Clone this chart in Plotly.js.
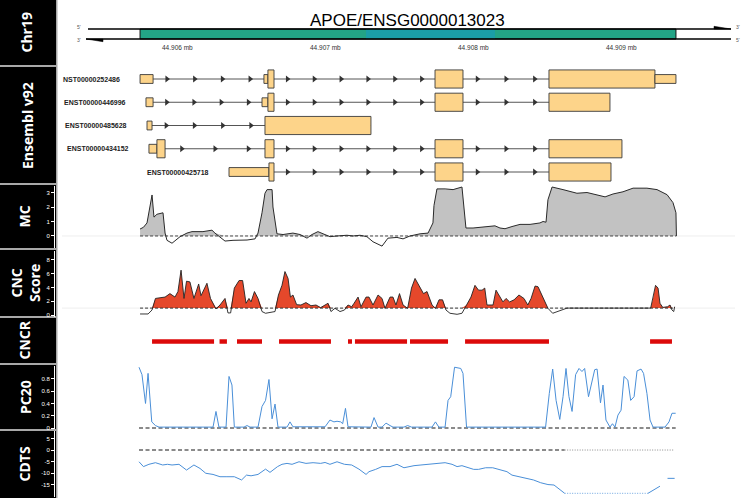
<!DOCTYPE html>
<html><head><meta charset="utf-8">
<script src="https://cdn.plot.ly/plotly-3.0.1.min.js"></script>
<style>html,body{margin:0;padding:0;background:#fff}#chart{width:750px;height:498px}</style>
</head><body><div id="chart"></div>
<script>
// ================= DATA =================
const geneTitle = "APOE/ENSG0000013023";
const geneStart = 44905747, geneEnd = 44909368;
const highlightStart = 44907274, highlightEnd = 44908145;
const axisTicks = [44906000, 44907000, 44908000, 44909000];
const axisTickLabels = ["44.906 mb", "44.907 mb", "44.908 mb", "44.909 mb"];

const trackLabels = ["Chr19", "Ensembl v92", "MC", "CNC<br>Score", "CNCR", "PC20", "CDTS"];

const transcriptNames = ["NST00000252486", "ENST00000446996", "ENST00000485628", "ENST00000434152", "ENST00000425718"];
const exonStarts = [
  [44905747, 44906584, 44906611, 44907740, 44908510, 44909226],
  [44905787, 44906571, 44906611, 44907740, 44908510],
  [44905794, 44906591],
  [44905807, 44905861, 44906591, 44907740, 44908510],
  [44906348, 44906618, 44907740, 44908510]
];
const exonEnds = [
  [44905835, 44906611, 44906652, 44907929, 44909226, 44909368],
  [44905835, 44906611, 44906652, 44907929, 44908922],
  [44905828, 44907307],
  [44905861, 44905916, 44906652, 44907929, 44909003],
  [44906618, 44906652, 44907929, 44908929]
];
const exonCoding = [
  [0, 0, 1, 1, 1, 0],
  [0, 0, 1, 1, 1],
  [0, 1],
  [0, 1, 1, 1, 1],
  [0, 1, 1, 1]
];

const mcPos = [44905747,44905770,44905794,44905828,44905841,44905861,44905902,44905916,44905929,44905963,
  44906017,44906064,44906098,44906132,44906172,44906233,44906253,44906321,44906375,44906470,
  44906524,44906544,44906571,44906591,44906605,44906639,44906645,44906672,44906713,44906780,
  44906828,44906875,44906909,44906949,44906983,44907030,44907078,44907145,44907186,44907233,
  44907280,44907321,44907382,44907422,44907483,44907524,44907571,44907639,44907693,44907726,
  44907733,44907753,44907808,44907862,44907922,44907949,44907997,44908044,44908098,44908145,
  44908179,44908213,44908260,44908314,44908382,44908449,44908470,44908490,44908503,44908531,
  44908605,44908699,44908767,44908835,44908889,44908943,44909010,44909078,44909172,44909240,
  44909308,44909348,44909368,44909371];
const mcVal = [0.48,0.6,0.9,2.83,1.3,1.5,1.6,0.2,-0.3,-0.5,
  -0.05,0.2,0.3,0.3,0.3,0.4,0.2,-0.35,-0.3,-0.28,
  -0.2,0.2,1.6,2.95,3.2,3.2,2.0,0.15,0.1,0.2,
  0.1,-0.15,0.1,0.3,0.15,-0.05,0,0.05,0.0,0.05,
  -0.05,-0.4,-0.7,-0.15,-0.1,-0.2,0.0,0.15,0.2,0.9,
  2.1,3.25,3.25,3.2,3.38,0.55,0.55,0.6,0.7,0.7,
  0.55,0.5,0.65,0.8,0.8,0.9,1.0,0.95,2.5,3.38,
  3.2,2.95,3.0,2.85,2.7,2.9,3.05,3.3,3.3,3.2,
  2.85,2.3,1.6,0];

const cncPos = [44905747,44905801,44905828,44905851,44905882,44905916,44905949,44905983,44906003,44906024,
  44906044,44906061,44906084,44906111,44906143,44906159,44906199,44906223,44906260,44906287,
  44906321,44906341,44906359,44906384,44906416,44906440,44906463,44906483,44906497,44906520,
  44906544,44906571,44906595,44906659,44906682,44906706,44906726,44906747,44906763,44906780,
  44906805,44906834,44906868,44906902,44906936,44906967,44906997,44907017,44907037,44907064,
  44907098,44907128,44907152,44907177,44907193,44907220,44907240,44907274,44907294,44907321,
  44907355,44907382,44907402,44907436,44907456,44907476,44907500,44907524,44907555,44907581,
  44907605,44907630,44907662,44907686,44907720,44907743,44907767,44907791,44907814,44907841,
  44907889,44907922,44907953,44907983,44908010,44908034,44908058,44908076,44908091,44908132,
  44908152,44908179,44908199,44908220,44908244,44908274,44908307,44908341,44908367,44908389,
  44908416,44908436,44908470,44908503,44908535,44908564,44908598,44908632,44909197,44909213,
  44909230,44909247,44909260,44909279,44909311,44909328,44909341,44909353,44909359];
const cncVal = [0.15,0.15,0.72,2.4,2.5,2.6,3.1,2.6,3.4,6.5,
  2.4,4.9,4.8,2.4,4.5,2.8,4.6,2.4,0.87,1.45,
  2.4,0.3,0.3,3.9,5.0,5.0,1.7,2.4,1.9,3.4,
  2.4,0.5,0.25,0.5,2.9,4.3,6.3,5.3,2.6,2.9,
  1.5,1.45,1.8,1.35,1.45,1.07,1.45,1.7,0.5,0.97,
  0.5,0.72,1.45,1.2,1.7,2.6,1.2,2.6,2.6,1.45,
  2.9,2.4,0.97,2.6,2.6,1.45,3.1,1.45,0.97,3.9,
  5.3,4.3,3.1,3.4,1.45,0.97,2.2,2.2,0.72,0.25,
  0.1,0.25,1.45,2.6,4.3,3.6,3.6,3.9,1.45,1.45,
  3.6,2.6,1.9,2.4,1.9,2.2,2.9,2.4,1.45,2.4,
  4.2,4.1,2.6,0.97,0.25,0.5,0.72,1.0,1.0,2.4,
  4.3,3.9,1.7,1.1,1.2,1.45,0.72,0.5,1.2];
const cncThreshold = 1;

const cncrStart = [44905828, 44906284, 44906402, 44906686, 44907152, 44907199, 44907571, 44907943, 44909193];
const cncrEnd   = [44906247, 44906334, 44906571, 44907037, 44907179, 44907551, 44907828, 44908510, 44909341];

const pc20Pos = [44905740,44905760,44905784,44905801,44905826,44905851,44905875,44906240,44906260,44906280,
  44906328,44906348,44906368,44906384,44906449,44906470,44906490,44906544,44906571,44906595,
  44906618,44906639,44906659,44906679,44906740,44906760,44906780,44906936,44906956,44906997,
  44907030,44907057,44907078,44907103,44907116,44907135,44907152,44907193,44907226,44907307,
  44907328,44907355,44907382,44907409,44907436,44907456,44907530,44907555,44907581,44907720,
  44907743,44907766,44907808,44907828,44907846,44907872,44907914,44907929,44907953,44908487,
  44908512,44908535,44908558,44908583,44908605,44908625,44908645,44908666,44908690,44908713,
  44908733,44908751,44908777,44908801,44908819,44908835,44908858,44908875,44908895,44908922,
  44908939,44908956,44908976,44908997,44909017,44909043,44909062,44909085,44909105,44909132,
  44909149,44909172,44909193,44909213,44909294,44909321,44909341,44909366];
const pc20Val = [0.99,0.87,0.40,0.89,0.10,0.04,0.015,0.015,0.27,0.015,
  0.015,0.84,0.70,0.015,0.015,0.04,0.015,0.015,0.35,0.45,
  0.79,0.15,0.39,0.015,0.015,0.1,0.02,0.02,0.03,0.02,
  0.13,0.1,0.11,0.1,0.07,0.32,0.02,0.02,0.015,0.015,
  0.17,0.015,0.015,0.08,0.04,0.015,0.015,0.04,0.015,0.015,
  0.1,0.015,0.015,0.45,0.51,0.99,0.97,0.89,0.015,0.015,
  0.56,0.96,0.45,0.14,0.51,0.97,0.51,0.27,0.87,0.97,
  0.92,0.97,0.51,0.78,0.95,0.96,0.41,0.70,0.13,0.015,
  0.07,0.015,0.21,0.29,0.84,0.78,0.45,0.51,0.93,0.96,
  0.89,0.56,0.13,0.015,0.015,0.1,0.24,0.24];

const cdtsPos = [44905740,44905770,44905807,44905851,44905900,44905932,44905963,44906010,44906061,44906111,
  44906152,44906191,44906240,44906287,44906334,44906384,44906433,44906466,44906497,44906544,
  44906595,44906625,44906676,44906706,44906740,44906774,44906821,44906868,44906916,44906967,
  44906997,44907030,44907078,44907128,44907177,44907226,44907274,44907294,44907339,44907382,
  44907436,44907483,44907530,44907564,44907598,44907645,44907710,44907759,44907808,44907855,
  44907889,44907922,44907970,44908001,44908034,44908082,44908130,44908179,44908226,44908260,
  44908307,44908355,44908405,44908454,44908503,44908544,44908585,44908616,44908900,44909179,
  44909213,44909260,44909285,44909311,44909359];
const cdtsVal = [-5.1,-7.2,-6.2,-5.5,-6.5,-6.2,-6.5,-6.2,-8.7,-6.5,
  -8.0,-10.1,-10.6,-11.6,-11.6,-11.6,-13.0,-10.9,-11.2,-10.6,
  -8.3,-9.7,-7.2,-6.2,-5.8,-6.2,-5.1,-5.8,-5.5,-5.8,
  -5.4,-6.2,-5.1,-6.2,-6.5,-8.3,-10.6,-9.4,-8.4,-7.2,
  -7.2,-6.2,-7.7,-7.2,-6.8,-6.5,-6.2,-5.8,-5.5,-6.2,
  -7.2,-6.8,-7.7,-8.4,-8.4,-7.7,-7.7,-8.7,-9.4,-10.9,
  -11.6,-12.3,-13.0,-14.2,-15.0,-15.2,-17.4,-18.8,null,-18.8,
  -17.4,-15.7,null,-12.3,-12.3];
const cdtsNaStart = [44908616];
const cdtsNaEnd = [44909179];
const cdtsNaLevel = -18.8;

// ================= LAYOUT HELPERS =================
const W = 750, H = 498;
const PX_PER_BP = 148 / 1000, REF_PX = 177.5, REF_BP = 44906000;
const xRange = [REF_BP - REF_PX / PX_PER_BP, REF_BP + (W - REF_PX) / PX_PER_BP];
const px = p => p / W;
const dom = (top, bottom) => [1 - bottom / H, 1 - top / H];
const NARROW = "Liberation Sans Narrow, Arial Narrow, Liberation Sans, sans-serif";

function plainAxis(d, r) {
  return {domain: d, range: r, visible: false, fixedrange: true, showgrid: false, zeroline: false};
}
function numAxis(d, r, tv, tt) {
  return {domain: d, range: r, anchor: 'free', position: 54 / W, side: 'left',
    showline: true, linecolor: '#fff', linewidth: 1, ticks: 'outside', ticklen: 3,
    tickcolor: '#fff', tickwidth: 1, tickmode: 'array', tickvals: tv, ticktext: tt || tv.map(String),
    tickfont: {size: 6, color: '#fff', family: 'Liberation Sans, sans-serif'},
    showgrid: false, zeroline: false, fixedrange: true};
}
function note(o) { return Object.assign({showarrow: false, xanchor: 'center', yanchor: 'middle'}, o); }

const traces = [];
const shapes = [];
const annotations = [];

// ----- left label column -----
const panelBoxes = [[0, 65], [67, 183], [185, 248], [250, 316], [318, 363], [365, 429], [431, 498]];
const labelX = [26, 27, 24, 25, 24, 25, 24];
shapes.push({type: 'rect', xref: 'paper', yref: 'paper', x0: 0, x1: px(57.5), y0: 0, y1: 1,
  fillcolor: '#a8a8a8', line: {width: 0}, layer: 'below'});
panelBoxes.forEach(([t, b], k) => {
  shapes.push({type: 'rect', xref: 'paper', yref: 'paper', x0: 0, x1: px(56), y0: 1 - b / H, y1: 1 - t / H,
    fillcolor: '#000', line: {width: 0}, layer: 'below'});
  annotations.push(note({xref: 'paper', yref: 'paper', x: px(labelX[k]), y: 1 - (t + b) / 2 / H,
    text: trackLabels[k], textangle: -90,
    font: {family: 'Open Sans, Noto Sans, sans-serif', size: 14, color: '#fff', weight: 700}}));
});

// ----- chromosome / gene track (yaxis, pixel units) -----
traces.push({x: [geneStart, geneEnd], y: [34, 34], yaxis: 'y', mode: 'markers',
  marker: {opacity: 0}, hoverinfo: 'skip', showlegend: false});
shapes.push({type: 'rect', xref: 'x', yref: 'y', x0: geneStart, x1: geneEnd, y0: 29, y1: 39,
  fillcolor: '#23a486', line: {color: '#111', width: 1}});
shapes.push({type: 'rect', xref: 'x', yref: 'y', x0: highlightStart, x1: highlightEnd, y0: 29.5, y1: 38.5,
  fillcolor: '#1b9ea8', line: {width: 0}});
shapes.push({type: 'path', xref: 'paper', yref: 'y', path: `M ${px(88)},29 L ${px(731)},29`,
  line: {color: '#000', width: 1.3}});
shapes.push({type: 'path', xref: 'paper', yref: 'y', path: `M ${px(714)},26.3 L ${px(731)},29 L ${px(714)},29 Z`,
  fillcolor: '#000', line: {color: '#000', width: 0.5}});
shapes.push({type: 'path', xref: 'paper', yref: 'y', path: `M ${px(86)},39 L ${px(731)},39`,
  line: {color: '#000', width: 1.3}});
shapes.push({type: 'path', xref: 'paper', yref: 'y', path: `M ${px(86)},39 L ${px(103)},39 L ${px(103)},41.7 Z`,
  fillcolor: '#000', line: {color: '#000', width: 0.5}});
[[79, 27, "5'"], [79, 39.5, "3'"], [738, 27, "3'"], [738, 39.5, "5'"]].forEach(([xx, yy, tx]) => {
  annotations.push(note({xref: 'paper', yref: 'y', x: px(xx), y: yy, text: tx,
    font: {size: 5, color: '#555', family: NARROW}}));
});
annotations.push(note({xref: 'paper', yref: 'y', x: px(407), y: 20, text: geneTitle,
  font: {family: NARROW, size: 17, color: '#000'}}));
axisTicks.forEach((t, i) => {
  annotations.push(note({xref: 'x', yref: 'y', x: t, y: 47, text: axisTickLabels[i],
    font: {family: NARROW, size: 6.5, color: '#333'}}));
});

// ----- Ensembl transcripts (yaxis2, row units) -----
const arrowX = [], arrowY = [];
transcriptNames.forEach((name, i) => {
  const st = exonStarts[i], en = exonEnds[i];
  traces.push({x: [st[0], en[en.length - 1]], y: [i, i], yaxis: 'y2', mode: 'lines',
    line: {color: '#555', width: 1}, hoverinfo: 'skip', showlegend: false});
  for (let j = 0; j < st.length - 1; j++) {
    const a = en[j], b = st[j + 1], len = b - a;
    if (len <= 0) continue;
    const n = Math.max(1, Math.floor(len / 170));
    for (let k = 0; k < n; k++) { arrowX.push(a + (k + 0.5) * len / n); arrowY.push(i); }
  }
  st.forEach((s, j) => {
    const h = exonCoding[i][j] ? 0.39 : 0.19;
    shapes.push({type: 'rect', xref: 'x', yref: 'y2', x0: s, x1: en[j], y0: i - h, y1: i + h,
      fillcolor: '#fdd48a', line: {color: '#3a3a3a', width: 0.9}});
  });
  annotations.push(note({xref: 'x', yref: 'y2', x: st[0], y: i, xanchor: 'right', xshift: -18, text: name,
    font: {family: NARROW, size: 7, color: '#222', weight: 700}}));
});
traces.push({x: arrowX, y: arrowY, yaxis: 'y2', mode: 'markers', hoverinfo: 'skip', showlegend: false,
  marker: {symbol: 'triangle-right', size: 6, color: '#333', line: {width: 0}}});

// ----- MC (yaxis3) -----
shapes.push({type: 'line', xref: 'paper', yref: 'y3', x0: px(62), x1: px(735), y0: 0, y1: 0,
  line: {color: '#eeeeee', width: 1}, layer: 'below'});
traces.push({x: mcPos, y: mcVal.map(v => Math.max(v, 0)), yaxis: 'y3', mode: 'lines', fill: 'tozeroy',
  fillcolor: '#c2c2c2', line: {width: 0}, hoverinfo: 'skip', showlegend: false});
traces.push({x: [mcPos[0], mcPos[mcPos.length - 1]], y: [0, 0], yaxis: 'y3', mode: 'lines',
  line: {color: '#444', width: 1, dash: '3px,2px'}, hoverinfo: 'skip', showlegend: false});
traces.push({x: mcPos, y: mcVal, yaxis: 'y3', mode: 'lines', line: {color: '#2a2a2a', width: 1},
  showlegend: false});

// ----- CNC Score (yaxis4) -----
shapes.push({type: 'line', xref: 'paper', yref: 'y4', x0: px(62), x1: px(735), y0: cncThreshold, y1: cncThreshold,
  line: {color: '#eeeeee', width: 1}, layer: 'below'});
traces.push({x: cncPos, y: cncPos.map(() => cncThreshold), yaxis: 'y4', mode: 'lines',
  line: {width: 0}, hoverinfo: 'skip', showlegend: false});
traces.push({x: cncPos, y: cncVal.map(v => Math.max(v, cncThreshold)), yaxis: 'y4', mode: 'lines',
  fill: 'tonexty', fillcolor: '#e5482b', line: {width: 0}, hoverinfo: 'skip', showlegend: false});
traces.push({x: [cncPos[0], cncPos[cncPos.length - 1]], y: [cncThreshold, cncThreshold], yaxis: 'y4', mode: 'lines',
  line: {color: '#333', width: 1, dash: '3px,2px'}, hoverinfo: 'skip', showlegend: false});
traces.push({x: cncPos, y: cncVal, yaxis: 'y4', mode: 'lines', line: {color: '#222', width: 0.9},
  showlegend: false});

// ----- CNCR (yaxis5) -----
const crX = [], crY = [];
cncrStart.forEach((s, i) => { crX.push(s, cncrEnd[i], null); crY.push(0.5, 0.5, null); });
traces.push({x: crX, y: crY, yaxis: 'y5', mode: 'lines', line: {color: '#dc0a0a', width: 4.5},
  showlegend: false});

// ----- PC20 (yaxis6) -----
traces.push({x: [pc20Pos[0], pc20Pos[pc20Pos.length - 1]], y: [0, 0], yaxis: 'y6', mode: 'lines',
  line: {color: '#8a8a8a', width: 1.8, dash: '4px,2.5px'}, hoverinfo: 'skip', showlegend: false});
traces.push({x: pc20Pos, y: pc20Val, yaxis: 'y6', mode: 'lines', line: {color: '#4a8fd8', width: 1},
  showlegend: false});

// ----- CDTS (yaxis7) -----
traces.push({x: [cdtsPos[0], cdtsNaStart[0]], y: [0, 0], yaxis: 'y7', mode: 'lines',
  line: {color: '#8a8a8a', width: 1.8, dash: '4px,2.5px'}, hoverinfo: 'skip', showlegend: false});
traces.push({x: [cdtsNaStart[0], cdtsPos[cdtsPos.length - 1]], y: [0, 0], yaxis: 'y7', mode: 'lines',
  line: {color: '#8a8a8a', width: 1, dash: '1px,1.5px'}, hoverinfo: 'skip', showlegend: false});
cdtsNaStart.forEach((s, i) => {
  traces.push({x: [s, cdtsNaEnd[i]], y: [cdtsNaLevel, cdtsNaLevel], yaxis: 'y7', mode: 'lines',
    line: {color: '#4a8fd8', width: 0.8, dash: '1px,1.5px'}, hoverinfo: 'skip', showlegend: false});
});
traces.push({x: cdtsPos, y: cdtsVal, yaxis: 'y7', mode: 'lines', connectgaps: false,
  line: {color: '#4a8fd8', width: 1}, showlegend: false});

const layout = {
  width: W, height: H, margin: {l: 0, r: 0, t: 0, b: 0},
  paper_bgcolor: '#fff', plot_bgcolor: 'rgba(0,0,0,0)', showlegend: false,
  font: {family: 'Liberation Sans, Arial, sans-serif'},
  xaxis: {domain: [0, 1], range: xRange, visible: false, fixedrange: true},
  yaxis: plainAxis(dom(0, 65), [65, 0]),
  yaxis2: plainAxis(dom(68, 183), [4.473, -0.473]),
  yaxis3: numAxis(dom(186, 248), [-0.83, 3.45], [0, 1, 2, 3]),
  yaxis4: numAxis(dom(251, 317), [-0.29, 9.28], [0, 2, 4, 6, 8]),
  yaxis5: plainAxis(dom(319, 364), [0, 1]),
  yaxis6: numAxis(dom(366, 429), [-0.016, 1.01], [0, 0.2, 0.4, 0.6, 0.8], ['0', '0.2', '0.4', '0.6', '0.8']),
  yaxis7: numAxis(dom(431, 497), [-20.4, 8.26], [-15, -10, -5, 0, 5]),
  shapes: shapes, annotations: annotations, hovermode: false
};

Plotly.newPlot('chart', traces, layout, {displayModeBar: false, staticPlot: true});
</script>
</body></html>
